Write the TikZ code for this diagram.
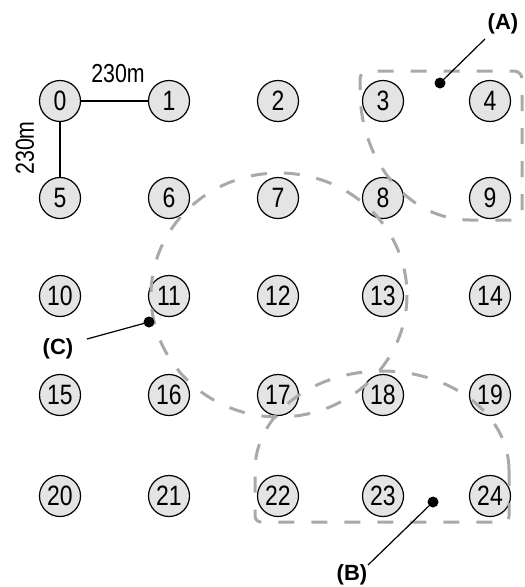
\documentclass[tikz,border=0pt]{standalone}
\usepackage{fontspec}
\setmainfont{Liberation Sans}
\newfontfamily\numfont[FakeStretch=0.82]{Liberation Sans}
\definecolor{nodefill}{HTML}{E4E4E4}
\definecolor{dashgray}{HTML}{A9A9A9}
\tikzset{
  site/.style={circle, draw=black, line width=1.2pt, fill=nodefill, minimum size=41pt, inner sep=0pt, font=\numfont\fontsize{28}{28}\selectfont},
  dlabel/.style={font=\bfseries\fontsize{22}{22}\selectfont, inner sep=0pt},
  dimlabel/.style={font=\numfont\fontsize{26}{26}\selectfont, inner sep=0pt},
  region/.style={draw=dashgray, line width=3pt, dash pattern=on 16pt off 17pt},
  leader/.style={draw=black, line width=1.2pt},
  dot/.style={circle, fill=black, minimum size=11pt, inner sep=0pt}
}
\begin{document}
\begin{tikzpicture}[x=1pt, y=-1pt]
\useasboundingbox (0,0) rectangle (525,587);
% grid of sites
\foreach \r/\yy in {0/101,1/198,2/296,3/395,4/496}{
  \foreach \c/\xx in {0/60,1/169,2/278,3/383,4/490}{
    \pgfmathtruncatemacro{\n}{\r*5+\c}
    \node[site] (n\n) at (\xx,\yy) {\n};
  }
}
% distance markers
\draw[line width=1.2pt] (n0) -- (n1);
\draw[line width=1.2pt] (n0) -- (n5);
\node[dimlabel] (d1) at (118,74) {230m};
\node[dimlabel, rotate=90] (d2) at (25,148) {230m};
% region A
\draw[region] (360,90) [rounded corners=8pt]-- (360,71) -- (522,71) -- (522,220) [sharp corners]-- (470,220)
  -- plot[domain=90:180, samples=40, smooth] ({470+110*cos(\x)},{90+130*sin(\x)});
% region C
\draw[region] (279,295) ellipse [x radius=128, y radius=122];
% region B
\draw[region] plot[domain=0:-180, samples=50, smooth] ({382+127*cos(\x)},{470+99*sin(\x)})
  [rounded corners=6pt]-- (255,522) -- (509,522) [sharp corners]-- cycle;
% annotations
\node[dot] (pA) at (440,83) {};
\coordinate (eA) at (485,39);
\node[dlabel] (lA) at (503,24) {(A)};
\draw[leader] (pA.center) -- (eA);
\node[dot] (pC) at (149,322) {};
\coordinate (eC) at (87,339);
\node[dlabel] (lC) at (58,349) {(C)};
\draw[leader] (pC.center) -- (eC);
\node[dot] (pB) at (433,502) {};
\coordinate (eB) at (368,565);
\node[dlabel] (lB) at (352,575) {(B)};
\draw[leader] (pB.center) -- (eB);
\end{tikzpicture}
\end{document}
